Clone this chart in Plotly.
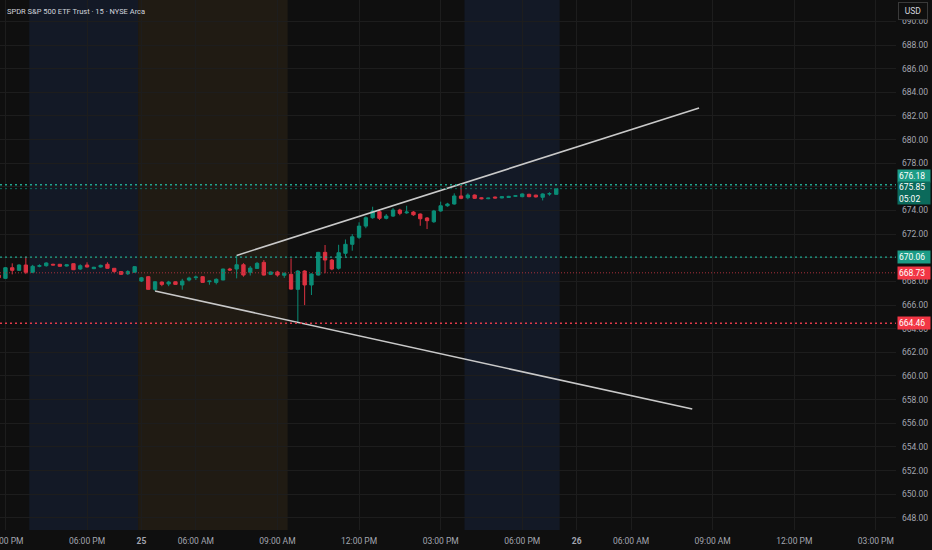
import pandas as pd
import plotly.graph_objects as go

# ---------------- data ----------------
bar_times = list(pd.date_range("2025-11-24 14:45", "2025-11-24 19:45", freq="15min")) + \
            list(pd.date_range("2025-11-25 04:00", "2025-11-25 19:15", freq="15min"))

opens = [668.54, 668.26, 669.16, 668.94, 669.39, 668.77, 669.28, 669.33, 669.45, 669.45,
         669.30, 669.50, 669.05, 669.39, 669.08, 669.22, 669.45, 669.11, 668.83, 668.65,
         668.77,
         668.03, 668.40, 667.33, 667.95, 667.78, 667.97, 667.70, 668.12, 668.32, 668.40,
         667.98, 667.92, 668.12, 669.05, 669.05, 669.41, 668.77, 669.10, 669.61, 668.60,
         668.80, 668.52, 668.60, 667.33, 668.88, 667.70, 668.54, 670.46, 669.81, 669.11,
         670.38, 671.14, 671.73, 672.68, 673.39, 673.90, 673.34, 673.53, 674.04, 673.80,
         673.87, 673.70, 673.37, 673.05, 673.96, 674.40, 674.55, 675.23, 675.08, 675.31,
         675.08, 675.00, 675.14, 675.06, 675.10, 675.20, 675.17, 675.37, 675.30, 675.12,
         675.40, 675.37]
highs = [668.62, 669.22, 669.53, 669.45, 670.10, 669.40, 669.45, 669.62, 669.50, 669.48,
         669.45, 669.52, 669.45, 669.62, 669.24, 669.42, 669.62, 669.14, 668.86, 668.95,
         669.28,
         668.38, 668.45, 668.02, 668.00, 668.05, 668.00, 668.22, 668.40, 668.50, 668.45,
         668.05, 668.26, 669.08, 669.15, 670.20, 669.55, 669.30, 669.65, 669.80, 668.85,
         668.90, 668.75, 669.95, 668.95, 668.95, 668.68, 670.50, 671.08, 669.90, 671.10,
         671.55, 672.00, 673.00, 673.50, 674.32, 674.10, 673.70, 674.20, 674.15, 674.40,
         673.95, 673.75, 673.45, 674.05, 674.75, 674.65, 675.45, 676.18, 675.45, 675.36,
         675.12, 675.08, 675.18, 675.20, 675.24, 675.30, 675.45, 675.42, 675.34, 675.45,
         675.55, 675.90]
lows = [668.25, 668.20, 668.60, 668.88, 668.62, 668.70, 669.20, 669.25, 669.36, 669.25,
        669.26, 668.96, 668.98, 669.18, 669.04, 669.18, 669.08, 668.70, 668.56, 668.55,
        668.74,
        667.95, 667.30, 667.19, 667.60, 667.60, 667.72, 667.30, 668.00, 668.12, 667.90,
        667.72, 667.75, 668.10, 668.88, 668.26, 668.40, 668.50, 669.05, 668.50, 668.55,
        668.40, 668.30, 667.30, 664.46, 666.00, 666.85, 668.50, 668.69, 668.95, 669.00,
        670.10, 670.60, 671.60, 672.50, 673.30, 673.20, 673.25, 673.45, 673.60, 673.72,
        673.55, 672.71, 672.43, 672.95, 673.90, 674.32, 674.50, 674.95, 674.95, 674.98,
        674.95, 674.96, 675.02, 675.03, 675.08, 675.15, 675.12, 675.12, 675.10, 674.85,
        675.25, 675.35]
closes = [668.31, 669.16, 668.94, 669.39, 668.77, 669.28, 669.33, 669.56, 669.39, 669.28,
          669.41, 668.99, 669.33, 669.22, 669.20, 669.36, 669.11, 668.83, 668.60, 668.83,
          669.25,
          668.31, 667.33, 667.97, 667.75, 667.95, 667.75, 668.03, 668.29, 668.37, 667.92,
          668.03, 668.18, 669.05, 668.97, 669.41, 668.54, 669.13, 669.53, 668.54, 668.80,
          668.54, 668.69, 667.35, 668.88, 667.70, 668.63, 670.46, 669.81, 669.05, 670.43,
          671.14, 671.78, 672.68, 673.39, 673.96, 673.34, 673.53, 674.04, 673.76, 673.87,
          673.64, 673.30, 673.14, 673.96, 674.40, 674.55, 675.23, 675.03, 675.31, 675.03,
          675.00, 675.05, 675.06, 675.17, 675.20, 675.25, 675.40, 675.17, 675.15, 675.40,
          675.42, 675.85]

tick_times = ["2025-11-24 15:00", "2025-11-24 18:00", "2025-11-25 04:00", "2025-11-25 06:00",
              "2025-11-25 09:00", "2025-11-25 12:00", "2025-11-25 15:00", "2025-11-25 18:00",
              "2025-11-26 04:00", "2025-11-26 06:00", "2025-11-26 09:00", "2025-11-26 12:00",
              "2025-11-26 15:00"]
tick_labels = ["03:00 PM", "06:00 PM", "<b>25</b>", "06:00 AM", "09:00 AM", "12:00 PM",
               "03:00 PM", "06:00 PM", "<b>26</b>", "06:00 AM", "09:00 AM", "12:00 PM",
               "03:00 PM"]

upper_line_times = ["2025-11-25 07:30", "2025-11-26 08:30"]
upper_line_prices = [670.20, 682.67]
lower_line_times = ["2025-11-25 04:30", "2025-11-26 08:15"]
lower_line_prices = [667.19, 657.20]

post_sessions = [("2025-11-24 16:00", "2025-11-24 20:00"), ("2025-11-25 16:00", "2025-11-25 19:30")]
pre_sessions = [("2025-11-25 04:00", "2025-11-25 09:30")]

level_high = 676.18
level_open = 670.06
prev_close = 668.73
level_low = 664.46
last_price = 675.85
countdown = "05:02"
title_text = "SPDR S&P 500 ETF Trust · 15 · NYSE Arca"

# -------------- helpers --------------
DAY0 = pd.Timestamp("2025-11-25")


def bar_pos(ts):
    ts = pd.Timestamp(ts)
    return (ts.normalize() - DAY0).days * 64 + (ts.hour * 60 + ts.minute - 240) / 15


x = [bar_pos(t) for t in bar_times]

BG = "#0f0f0f"
GRID = "#1d1d1d"
UP = "#0a8d77"
DOWN = "#dc3140"
AXIS_TXT = "#a3a6af"
FONT = "Roboto"

fig = go.Figure()
fig.add_trace(go.Candlestick(
    x=x, open=opens, high=highs, low=lows, close=closes,
    increasing=dict(line=dict(color=UP, width=1), fillcolor=UP),
    decreasing=dict(line=dict(color=DOWN, width=1), fillcolor=DOWN),
    whiskerwidth=0, showlegend=False, hoverinfo="skip",
))
fig.add_trace(go.Scatter(x=[bar_pos(t) for t in upper_line_times], y=upper_line_prices,
                         mode="lines", line=dict(color="#c9c9c9", width=1.6),
                         showlegend=False, hoverinfo="skip"))
fig.add_trace(go.Scatter(x=[bar_pos(t) for t in lower_line_times], y=lower_line_prices,
                         mode="lines", line=dict(color="#c9c9c9", width=1.6),
                         showlegend=False, hoverinfo="skip"))

shapes = []
for s, e in post_sessions:
    shapes.append(dict(type="rect", xref="x", yref="paper", x0=bar_pos(s) - 0.5, x1=bar_pos(e) - 0.5,
                       y0=0, y1=1, fillcolor="#131926", line=dict(width=0), layer="below"))
for s, e in pre_sessions:
    shapes.append(dict(type="rect", xref="x", yref="paper", x0=bar_pos(s) - 0.5, x1=bar_pos(e) - 0.5,
                       y0=0, y1=1, fillcolor="#201b13", line=dict(width=0), layer="below"))

for lvl, col, dash, w in [(level_high, "#1fa88f", "2px,3px", 1.3),
                          (last_price, "#0d6f60", "2px,3px", 1.0),
                          (level_open, "#1fa88f", "2px,3px", 1.3),
                          (prev_close, "#a8303b", "1px,2px", 1.0),
                          (level_low, "#e0394a", "2px,3px", 1.3)]:
    shapes.append(dict(type="line", xref="paper", yref="y", x0=0, x1=1, y0=lvl, y1=lvl,
                       line=dict(color=col, width=w, dash=dash), layer="above"))

annotations = [
    dict(text=title_text, xref="paper", yref="paper", x=0, y=1, xanchor="left", yanchor="middle",
         xshift=5, yshift=-11, showarrow=False, font=dict(family=FONT, size=7.5, color="#d1d4dc")),
]


def price_box(val, text, bg, yshift=0, h=10, txtcol="#ffffff"):
    return dict(text=text, xref="paper", yref="y", x=1, y=val, xanchor="left", yanchor="middle",
                xshift=1, yshift=yshift, showarrow=False, align="left", width=30, height=h,
                bgcolor=bg, borderpad=1, font=dict(family=FONT, size=8.5, color=txtcol))


annotations += [
    price_box(level_high, f"{level_high:.2f}", "#1c9c86", yshift=8.5),
    price_box(last_price, f"{last_price:.2f}<br>{countdown}", "#0b6a5b", yshift=-4.5, h=20),
    price_box(level_open, f"{level_open:.2f}", "#1c9c86"),
    price_box(prev_close, f"{prev_close:.2f}", "#f23645"),
    price_box(level_low, f"{level_low:.2f}", "#f23645"),
    dict(text="USD", xref="paper", yref="paper", x=1, y=1, xanchor="left", yanchor="top",
         xshift=2, yshift=-2, showarrow=False, width=26, height=14, bgcolor=BG,
         bordercolor="#3a3a3a", borderwidth=1, borderpad=1,
         font=dict(family=FONT, size=8.5, color="#d1d4dc")),
]

fig.update_layout(
    width=932, height=550,
    margin=dict(l=0, r=36, t=0, b=20, autoexpand=False),
    paper_bgcolor=BG, plot_bgcolor=BG,
    shapes=shapes, annotations=annotations,
    showlegend=False,
    xaxis=dict(range=[-20.8, 110.96], tickvals=[bar_pos(t) for t in tick_times], ticktext=tick_labels,
               showgrid=True, gridcolor=GRID, gridwidth=1, zeroline=False, showline=False,
               ticks="", ticklabelstandoff=4, ticklabeloverflow="allow", automargin=False,
               tickfont=dict(family=FONT, size=8.5, color=AXIS_TXT),
               rangeslider=dict(visible=False), fixedrange=True),
    yaxis=dict(range=[646.97, 691.81], side="right", dtick=2, tick0=648, tickformat=".2f",
               showgrid=True, gridcolor=GRID, gridwidth=1, zeroline=False, showline=False,
               ticks="", ticklabelstandoff=5, automargin=False,
               tickfont=dict(family=FONT, size=8.5, color=AXIS_TXT),
               fixedrange=True),
)

fig.write_html("out.html", config={"displayModeBar": False},
               post_script="document.body.style.margin='0';document.body.style.background='#0f0f0f';")
